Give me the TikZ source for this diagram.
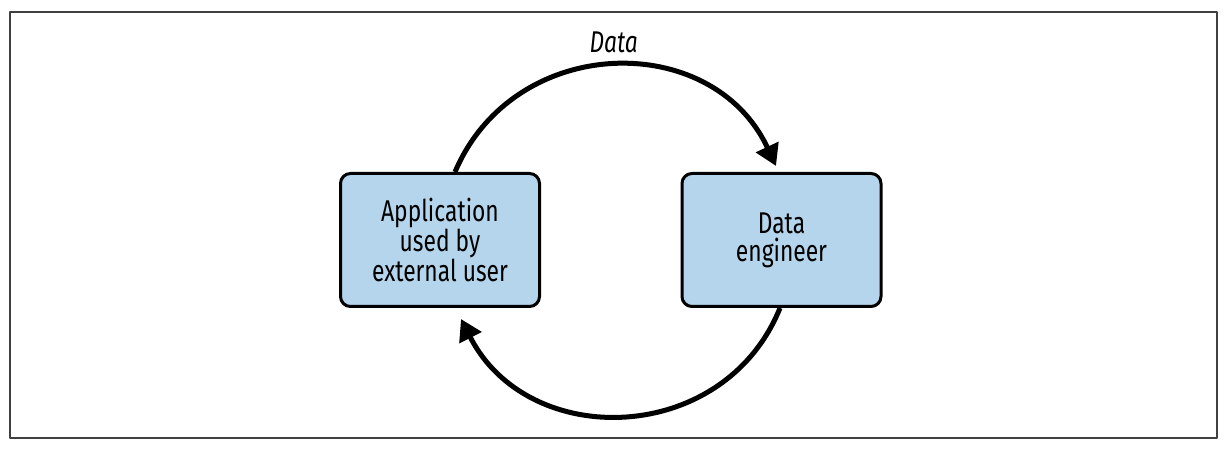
\documentclass[tikz,border=0pt]{standalone}
\usepackage{fontspec}
\setmainfont{Fira Sans}[FakeStretch=0.76]
\usetikzlibrary{arrows.meta}
\definecolor{boxblue}{RGB}{180,213,235}

\begin{document}
\begin{tikzpicture}[x=1pt, y=1pt, font=\fontsize{30}{28}\selectfont, node distance={341.5pt}, line join=round, main/.style = {draw, line width=3pt, rounded corners=10pt, fill=boxblue, minimum width=199pt, minimum height=133pt, align=center, inner sep=0pt}, flow/.style = {-{Triangle[length=21pt, width=24pt]}, line width=5pt}]
                \useasboundingbox (0,0) rectangle (1227,450);
                \draw[line width=1.5pt, black!75] (10,12) rectangle (1217,438);
                \node[main] (app) at (440,210) {Application\\used by\\external user};
                \node[main] (eng) [right of=app] {Data\\engineer};
                \draw[flow] ([xshift=15pt]app.north) to[out=67, in=115, looseness=1.2] node[above=10pt, inner sep=0pt, font=\fontsize{30}{28}\selectfont\itshape] {Data} ([xshift=-5.5pt, yshift=6pt]eng.north);
                \draw[flow] ([xshift=-1.5pt]eng.south) to[out=248, in=-63, looseness=1.19] ([xshift=21pt, yshift=-11pt]app.south);
            \end{tikzpicture}
\end{document}
